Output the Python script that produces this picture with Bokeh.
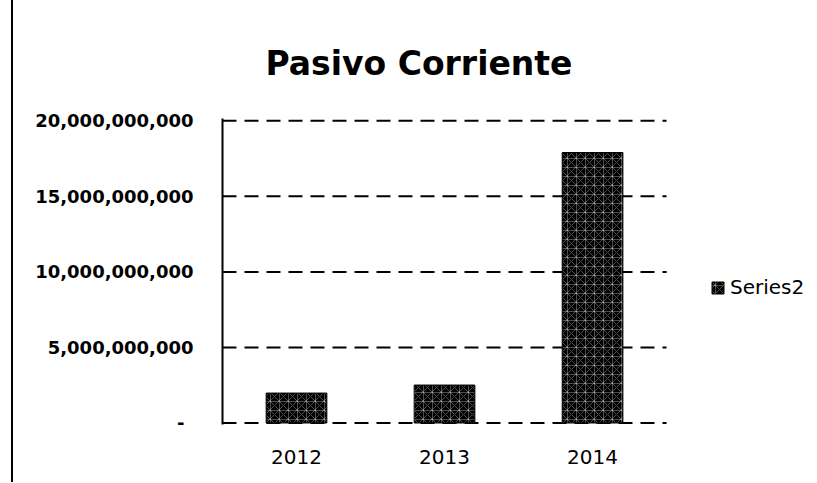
from bokeh.plotting import figure
from bokeh.models import (Range1d, FixedTicker, NumeralTickFormatter,
                          Legend, LegendItem, Div, Title)
from bokeh.layouts import row
from bokeh.embed import file_html
from bokeh.resources import INLINE

# ---- data ----
years = ["2012", "2013", "2014"]
values = [1.98e9, 2.51e9, 17.9e9]
y_ticks = [0, 5e9, 10e9, 15e9, 20e9]
series_name = "Series2"
title_text = "Pasivo Corriente"

FONT = "DejaVu Sans"

# category slots: one unit per year, bar centred in its slot
n = len(years)
x_pos = [i + 0.5 for i in range(n)]

p = figure(
    width=803, height=482,
    x_range=Range1d(0, 4.013),
    y_range=Range1d(-0.1e9, 20.15e9),
    output_backend="svg", toolbar_location=None,
    min_border_left=209, min_border_right=0,
    min_border_top=118, min_border_bottom=58,
)
p.outline_line_color = None
p.background_fill_color = "white"

p.title = Title(text=title_text, align="left", offset=43, standoff=71,
                text_font=FONT, text_font_size="33px", text_font_style="bold",
                text_color="black")

# dashed horizontal gridlines across the category area
p.segment(x0=[0] * len(y_ticks), x1=[n] * len(y_ticks), y0=y_ticks, y1=y_ticks,
          line_color="black", line_width=2, line_dash="14 8")

r = p.vbar(x=x_pos, top=values, width=0.41, bottom=0,
           fill_color="black", line_color="black", line_width=1,
           hatch_pattern="criss_cross", hatch_color="white",
           hatch_scale=9, hatch_weight=1, hatch_alpha=0.3)

# y axis
ya = p.yaxis[0]
ya.ticker = FixedTicker(ticks=y_ticks)
ya.formatter = NumeralTickFormatter(format="0,0")
ya.major_label_overrides = {0: "-\u2002"}
ya.major_tick_out = 0
ya.major_tick_in = 0
ya.minor_tick_out = 0
ya.minor_tick_in = 0
ya.axis_line_color = "black"
ya.axis_line_width = 2
ya.major_label_standoff = 29
ya.major_label_text_font = FONT
ya.major_label_text_font_size = "18px"
ya.major_label_text_font_style = "bold"
ya.major_label_text_color = "black"

# x axis (category labels)
xa = p.xaxis[0]
xa.ticker = FixedTicker(ticks=x_pos)
xa.major_label_overrides = {x: y for x, y in zip(x_pos, years)}
xa.axis_line_color = None
xa.major_tick_out = 0
xa.major_tick_in = 0
xa.minor_tick_out = 0
xa.minor_tick_in = 0
xa.major_label_standoff = 25
xa.major_label_text_font = FONT
xa.major_label_text_font_size = "20px"
xa.major_label_text_color = "black"

p.xgrid.grid_line_color = None
p.ygrid.grid_line_color = None

legend = Legend(items=[LegendItem(label=series_name, renderers=[r])],
                location=(488, 125), padding=0, margin=0,
                border_line_color=None, background_fill_alpha=0,
                glyph_width=15, glyph_height=15, label_standoff=5,
                label_text_font=FONT, label_text_font_size="20px",
                label_text_color="black")
p.add_layout(legend, "center")

edge = Div(text="", width=2, height=482, margin=(0, 0, 0, 11),
           styles={"background-color": "black"})

layout = row(edge, p, spacing=0)

open("out.html", "w").write(file_html(layout, INLINE))
